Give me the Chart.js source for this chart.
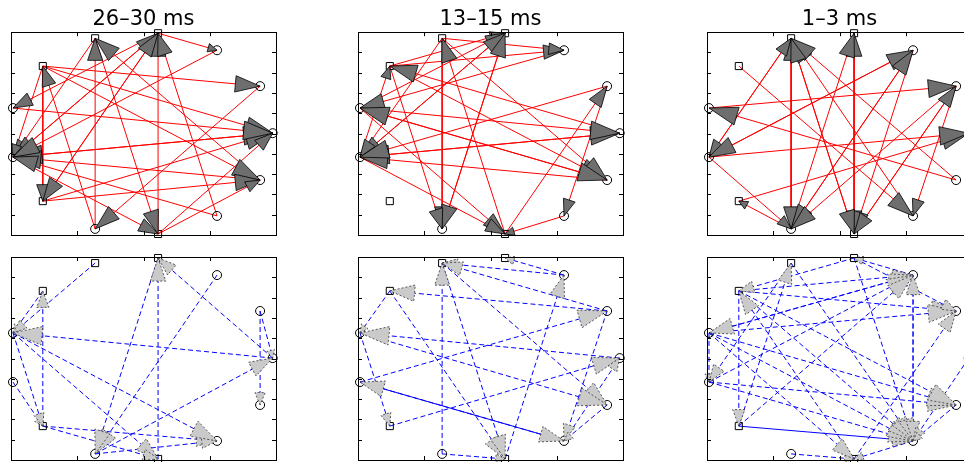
<!DOCTYPE html>
<html lang="en">
<head>
<meta charset="UTF-8">
<title>Directed connectivity, three time windows</title>
<style>
  html, body { margin: 0; padding: 0; background: #fff; overflow: hidden; }
  body { width: 964px; height: 462px; position: relative; }
  canvas { position: absolute; }
</style>
</head>
<body>
<canvas id="top0" width="281" height="243" style="left:3px;top:0px"></canvas>
<canvas id="top1" width="281" height="243" style="left:350px;top:0px"></canvas>
<canvas id="top2" width="281" height="243" style="left:699px;top:0px"></canvas>
<canvas id="bot0" width="281" height="219" style="left:3px;top:249px"></canvas>
<canvas id="bot1" width="281" height="219" style="left:350px;top:249px"></canvas>
<canvas id="bot2" width="281" height="219" style="left:699px;top:249px"></canvas>

<script src="https://cdn.jsdelivr.net/npm/chart.js@4.4.1/dist/chart.umd.min.js"></script>
<script>
// time windows (one column each)
const titles = ['26\u201330 ms', '13\u201315 ms', '1\u20133 ms'];

// 13 recording sites, same layout in every panel
const nodeX = [1.27, 2.22, 3.11, 3.76, 3.95, 3.76, 3.11, 2.22, 1.27, 0.48, 0.03, 0.03, 0.48];
const nodeY = [9.70, 9.95, 9.11, 7.34, 5.02, 2.71, 0.94, 0.05, 0.30, 1.67, 3.84, 6.26, 8.33];
const nodeKind = ['sq', 'sq', 'o', 'o', 'o', 'o', 'o', 'sq', 'o', 'sq', 'o', 'o', 'sq'];

const xTicks = [0, 1, 2, 3, 4];
const yTicks = [0, 1, 2, 3, 4, 5, 6, 7, 8, 9, 10];

// directed links [from, to]
const edgesTop1 = [[1,2],[12,3],[12,4],[10,4],[9,4],[11,4],[12,5],[9,5],[0,10],[1,10],[12,10],[4,10],
  [5,10],[2,10],[6,10],[7,1],[10,1],[9,1],[6,1],[5,0],[8,0],[0,7],[10,7],[3,8],[12,9],[1,9],[1,11],
  [8,12],[7,5],[7,4]];
const edgesTop2 = [[12,1],[11,1],[10,1],[12,2],[0,2],[7,3],[10,4],[11,4],[12,5],[0,5],[11,5],[3,6],
  [11,7],[10,7],[0,8],[1,8],[12,8],[1,10],[0,10],[4,10],[5,10],[3,10],[2,11],[5,11],[4,12],[10,12],
  [7,0],[6,7],[8,1]];
const edgesTop3 = [[8,0],[10,0],[6,0],[5,0],[7,0],[7,1],[8,1],[10,2],[8,2],[11,3],[7,3],[9,4],[10,4],
  [3,6],[1,7],[2,7],[3,7],[0,7],[0,8],[2,8],[3,8],[10,8],[8,9],[0,10],[2,10],[5,11],[12,6]];
const edgesBot1 = [[7,1],[4,1],[9,12],[12,11],[0,11],[4,11],[8,4],[3,4],[3,5],[9,6],[8,6],[11,6],
  [11,7],[9,7],[2,8],[1,8],[10,9],[11,9]];
const edgesBot2 = [[8,0],[2,0],[3,0],[2,1],[7,2],[10,3],[9,4],[0,5],[11,5],[10,6],[3,6],[5,6],[6,4],
  [12,7],[0,7],[8,7],[6,10],[4,11],[3,12],[11,9],[12,11]];
const edgesBot3 = [[9,0],[2,1],[12,2],[11,2],[10,2],[6,2],[9,2],[12,3],[11,3],[1,3],[7,3],[10,5],
  [11,5],[12,5],[9,6],[10,6],[11,6],[12,6],[0,6],[1,6],[2,6],[4,6],[5,6],[6,7],[8,7],[11,7],
  [12,9],[11,10],[0,10],[2,11],[7,12],[1,12]];

// arrowheads, box and inward ticks
const netPlugin = {
  id: 'netPlugin',
  afterDatasetsDraw(chart) {
    const ctx = chart.ctx;
    const opt = chart.options.plugins.netPlugin;
    chart.data.datasets.forEach((ds, i) => {
      if (!ds.isEdge) return;
      const pts = chart.getDatasetMeta(i).data;
      const p0 = pts[0], p1 = pts[1];
      const dx = p1.x - p0.x, dy = p1.y - p0.y;
      const len = Math.hypot(dx, dy);
      if (!len) return;
      const ux = dx / len, uy = dy / len;
      const L = 0.1 * len + 3, W = 0.25 * L + 2;
      const bx = p1.x - ux * L, by = p1.y - uy * L;
      ctx.save();
      ctx.beginPath();
      ctx.moveTo(p1.x, p1.y);
      ctx.lineTo(bx - uy * W, by + ux * W);
      ctx.lineTo(bx + uy * W, by - ux * W);
      ctx.closePath();
      ctx.fillStyle = opt.headFill;
      ctx.fill();
      ctx.lineWidth = 0.8;
      ctx.strokeStyle = opt.headLine;
      ctx.setLineDash(opt.headDash);
      ctx.stroke();
      ctx.restore();
    });

    const a = chart.chartArea;
    const sx = chart.scales.x, sy = chart.scales.y;
    ctx.save();
    ctx.strokeStyle = '#000';
    ctx.lineWidth = 1;
    ctx.strokeRect(Math.round(a.left) + 0.5, Math.round(a.top) + 0.5,
      Math.round(a.right - a.left), Math.round(a.bottom - a.top));
    ctx.beginPath();
    xTicks.forEach(v => {
      const px = Math.round(sx.getPixelForValue(v)) + 0.5;
      ctx.moveTo(px, a.bottom); ctx.lineTo(px, a.bottom - 4);
      ctx.moveTo(px, a.top); ctx.lineTo(px, a.top + 4);
    });
    yTicks.forEach(v => {
      const py = Math.round(sy.getPixelForValue(v)) + 0.5;
      ctx.moveTo(a.left, py); ctx.lineTo(a.left + 4, py);
      ctx.moveTo(a.right, py); ctx.lineTo(a.right - 4, py);
    });
    ctx.stroke();
    ctx.restore();
  }
};

function nodePoint(k) {
  return { x: nodeX[k], y: nodeY[k] };
}

function makePanel(id, edges, top, title, solid) {
  const datasets = [{
    data: nodeX.map((x, k) => nodePoint(k)),
    pointStyle: nodeKind.map(s => s === 'sq' ? 'rect' : 'circle'),
    pointRadius: nodeKind.map(s => s === 'sq' ? 5 : 4.5),
    pointBorderColor: '#000',
    pointBorderWidth: 1,
    pointBackgroundColor: 'rgba(0,0,0,0)',
    showLine: false,
    clip: false
  }];
  edges.forEach(e => {
    const isSolid = solid.some(s => s[0] === e[0] && s[1] === e[1]);
    datasets.push({
      isEdge: true,
      data: [nodePoint(e[0]), nodePoint(e[1])],
      showLine: true,
      borderColor: top ? '#ff0000' : '#0000ff',
      borderWidth: 1,
      borderDash: (top || isSolid) ? [] : [5, 3],
      pointRadius: 0,
      clip: false
    });
  });

  new Chart(document.getElementById(id), {
    type: 'scatter',
    data: { datasets },
    plugins: [netPlugin],
    options: {
      responsive: false,
      animation: false,
      devicePixelRatio: 1,
      layout: { padding: top ? { left: 8, right: 8, top: 0, bottom: 8 } : 8 },
      scales: {
        x: { type: 'linear', min: 0, max: 4, display: false },
        y: { type: 'linear', min: 0, max: 10, display: false }
      },
      plugins: {
        legend: { display: false },
        tooltip: { enabled: false },
        title: {
          display: top,
          text: title,
          color: '#000',
          font: { family: 'DejaVu Sans', size: 21, weight: 'normal', lineHeight: 1.2 },
          padding: { top: 7, bottom: 0 }
        },
        netPlugin: {
          headFill: top ? '#6e6e6e' : '#cacaca',
          headLine: top ? '#000' : '#333',
          headDash: top ? [] : [2, 2]
        }
      }
    }
  });
}

makePanel('top0', edgesTop1, true, titles[0], []);
makePanel('top1', edgesTop2, true, titles[1], []);
makePanel('top2', edgesTop3, true, titles[2], []);
makePanel('bot0', edgesBot1, false, '', []);
makePanel('bot1', edgesBot2, false, '', [[10,6]]);
makePanel('bot2', edgesBot3, false, '', [[9,6]]);
</script>
</body>
</html>
